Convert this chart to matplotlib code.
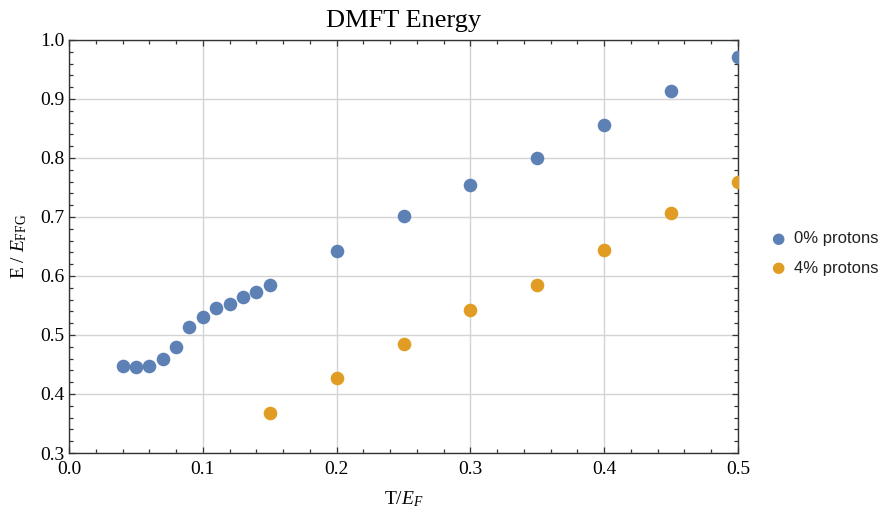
import matplotlib
matplotlib.use("Agg")
import matplotlib.pyplot as plt
from matplotlib.ticker import MultipleLocator, FormatStrFormatter

# Data
t_0 = [0.04, 0.05, 0.06, 0.07, 0.08, 0.09, 0.10, 0.11, 0.12, 0.13, 0.14, 0.15,
       0.20, 0.25, 0.30, 0.35, 0.40, 0.45, 0.50]
e_0 = [0.447, 0.445, 0.447, 0.459, 0.480, 0.514, 0.530, 0.545, 0.553, 0.564, 0.573, 0.585,
       0.642, 0.702, 0.754, 0.800, 0.856, 0.913, 0.971]
t_4 = [0.15, 0.20, 0.25, 0.30, 0.35, 0.40, 0.45, 0.50]
e_4 = [0.367, 0.427, 0.485, 0.542, 0.585, 0.644, 0.706, 0.759]
labels = ["0% protons", "4% protons"]
title = "DMFT Energy"

plt.rcParams['font.family'] = ['Liberation Serif', 'DejaVu Serif']
plt.rcParams['mathtext.fontset'] = 'custom'
plt.rcParams['mathtext.rm'] = 'Liberation Serif'
plt.rcParams['mathtext.it'] = 'Liberation Serif:italic'

blue = '#5E81B5'
orange = '#E19C24'

fig = plt.figure(figsize=(8.83, 5.15), dpi=100)
ax = fig.add_axes([69/883, 62/515, (738-69)/883, (453-40)/515])

ax.plot(t_0, e_0, 'o', color=blue, markersize=9.8, markeredgewidth=0, zorder=3)
ax.plot(t_4, e_4, 'o', color=orange, markersize=9.8, markeredgewidth=0, zorder=3)

ax.set_xlim(0, 0.5)
ax.set_ylim(0.3, 1.0)
ax.xaxis.set_major_locator(MultipleLocator(0.1))
ax.xaxis.set_minor_locator(MultipleLocator(0.02))
ax.yaxis.set_major_locator(MultipleLocator(0.1))
ax.yaxis.set_minor_locator(MultipleLocator(0.02))
ax.xaxis.set_major_formatter(FormatStrFormatter('%.1f'))
ax.yaxis.set_major_formatter(FormatStrFormatter('%.1f'))

ax.grid(True, which='major', color='#d4d4d4', linewidth=1.0, zorder=0)
ax.set_axisbelow(True)

ax.tick_params(which='both', direction='in', top=True, right=True,
               color='#333333', width=0.9, labelsize=14)
ax.tick_params(axis='x', which='both', pad=6)
ax.tick_params(axis='y', which='both', pad=3)
ax.tick_params(which='major', length=4.5)
ax.tick_params(which='minor', length=3)
for s in ax.spines.values():
    s.set_color('#333333')
    s.set_linewidth(1.0)

ax.set_title(title, fontsize=19, pad=9)
ax.set_xlabel(r'T/$\mathit{E}_{\mathit{F}}$', fontsize=14, labelpad=8)
ax.set_ylabel(r'E / $\mathit{E}_{\mathrm{FFG}}$', fontsize=14, labelpad=8)

# Legend
fig.text(778/883, 1 - 238/515, '\u25CF', color=blue, fontsize=11,
         ha='center', va='center', family='DejaVu Sans')
fig.text(778/883, 1 - 268/515, '\u25CF', color=orange, fontsize=11,
         ha='center', va='center', family='DejaVu Sans')
fig.text(794/883, 1 - 238/515, labels[0], fontsize=12, ha='left', va='center',
         family='Liberation Sans', color='#222222')
fig.text(794/883, 1 - 268/515, labels[1], fontsize=12, ha='left', va='center',
         family='Liberation Sans', color='#222222')

fig.savefig('out.png', dpi=100)
